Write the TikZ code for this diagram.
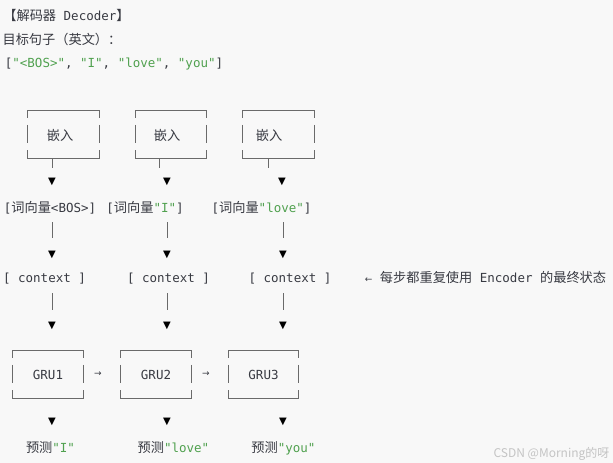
\documentclass[tikz,border=0pt]{standalone}
\usepackage{fontspec}
\setmainfont{DejaVu Sans Mono}[Ligatures=ResetAll]
\setmonofont{DejaVu Sans Mono}
\newfontfamily\cjk{Noto Sans CJK SC}
\newfontfamily\symf{DejaVu Sans}
\definecolor{bg}{HTML}{F8F8F8}
\definecolor{txt}{HTML}{383A42}
\definecolor{strc}{HTML}{50A14F}
\definecolor{framec}{HTML}{6A6A6A}
\definecolor{wm}{HTML}{C4C4C4}
\newcommand\zh[1]{{\cjk\fontsize{13.2}{15}\selectfont #1}}
\newcommand\gs[1]{\textcolor{strc}{#1}}
\newcommand\boxart[1]{%
  \draw[boxline] ([yshift=-7pt]#1.north west) -- (#1.north west) -- (#1.north east) -- ([yshift=-7pt]#1.north east);
  \draw[boxline] ([yshift=-14pt]#1.north west) -- ([yshift=-32pt]#1.north west);
  \draw[boxline] ([yshift=-14pt]#1.north east) -- ([yshift=-32pt]#1.north east);
  \draw[boxline] ([yshift=8pt]#1.south west) -- (#1.south west) -- (#1.south east) -- ([yshift=8pt]#1.south east);}
\tikzset{
  txtn/.style={inner sep=0pt, anchor=base, text=txt, font=\ttfamily\fontsize{12.5}{15}\selectfont},
  fbox/.style={inner sep=0pt, minimum width=70pt, minimum height=47pt, text=txt, font=\ttfamily\fontsize{12.5}{15}\selectfont},
  boxline/.style={draw=framec, line width=0.9pt},
  bar/.style={draw=framec, line width=0.9pt},
  tri/.style={inner sep=0pt, text=black, font=\symf\fontsize{10}{12}\selectfont},
  sarrow/.style={inner sep=0pt, text=txt, font=\symf\fontsize{9}{12}\selectfont},
}
\begin{document}
\begin{tikzpicture}[x=1pt,y=-1pt]
\fill[bg] (0,0) rectangle (613,463);
\useasboundingbox (0,0) rectangle (613,463);
% header
\node[txtn] (h1) at (66.5,20) {\zh{【解码器}~Decoder\zh{】}};
\node[txtn] (h2) at (62,44) {\zh{目标句子（英文）：}};
\node[txtn] (h3) at (114,67.5) {[\gs{"<BOS>"}, \gs{"I"}, \gs{"love"}, \gs{"you"}]};
% embedding boxes
\node[fbox, minimum width=71pt] (e1) at (63.5,134.5) {};
\node[fbox] (e2) at (171,134.5) {};
\node[fbox, minimum width=71pt] (e3) at (278.5,134.5) {};
\boxart{e1}\boxart{e2}\boxart{e3}
\node[txtn] (e1t) at (60,140) {\zh{嵌入}};
\node[txtn] (e2t) at (167,140) {\zh{嵌入}};
\node[txtn] (e3t) at (269,140) {\zh{嵌入}};
% stems
\coordinate (s1) at (52,158); \coordinate (s2) at (159,158); \coordinate (s3) at (268,158);
\draw[bar] (s1) -- ++(0,10);
\draw[bar] (s2) -- ++(0,10);
\draw[bar] (s3) -- ++(0,10);
\node[tri] (ta1) at (52,182) {▼};
\node[tri] (ta2) at (167,182) {▼};
\node[tri] (ta3) at (282,182) {▼};
% word vectors
\node[txtn] (v1) at (50,212) {[\zh{词向量}<BOS>]};
\node[txtn] (v2) at (145,212) {[\zh{词向量}\gs{"I"}]};
\node[txtn] (v3) at (261.5,212) {[\zh{词向量}\gs{"love"}]};
\coordinate (b1) at (52,222); \coordinate (b2) at (167,222); \coordinate (b3) at (283,222);
\draw[bar] (b1) -- ++(0,16);
\draw[bar] (b2) -- ++(0,16);
\draw[bar] (b3) -- ++(0,16);
\node[tri] (tb1) at (52,255) {▼};
\node[tri] (tb2) at (167,255) {▼};
\node[tri] (tb3) at (283,255) {▼};
% context
\node[txtn] (c1) at (44.5,282.5) {[ context ]};
\node[txtn] (c2) at (168.5,282.5) {[ context ]};
\node[txtn] (c3) at (290,282.5) {[ context ]};
\node[txtn] (note) at (485.5,282.5) {{\symf\fontsize{9}{10}\selectfont ←}~\zh{每步都重复使用}~Encoder~\zh{的最终状态}};
\coordinate (d1) at (52,293); \coordinate (d2) at (167,293); \coordinate (d3) at (283,293);
\draw[bar] (d1) -- ++(0,17);
\draw[bar] (d2) -- ++(0,17);
\draw[bar] (d3) -- ++(0,17);
\node[tri] (tc1) at (52,326) {▼};
\node[tri] (tc2) at (167,326) {▼};
\node[tri] (tc3) at (283,326) {▼};
% GRU boxes
\node[fbox] (g1) at (48,374.5) {GRU1};
\node[fbox] (g2) at (156,374.5) {GRU2};
\node[fbox, minimum width=69pt] (g3) at (263.5,374.5) {GRU3};
\boxart{g1}\boxart{g2}\boxart{g3}
\node[sarrow] (r1) at (98,374.5) {→};
\node[sarrow] (r2) at (206,374.5) {→};
\node[tri] (td1) at (52,422) {▼};
\node[tri] (td2) at (167,422) {▼};
\node[tri] (td3) at (283,422) {▼};
% predictions
\node[txtn] (p1) at (50.5,452) {\zh{预测}\gs{"I"}};
\node[txtn] (p2) at (173.5,452) {\zh{预测}\gs{"love"}};
\node[txtn] (p3) at (283.5,452) {\zh{预测}\gs{"you"}};
% watermark
\node[inner sep=0pt, anchor=base, text=wm, font=\cjk\fontsize{12}{14}\selectfont] (wmk) at (551.5,457) {CSDN @Morning的呀};
\end{tikzpicture}
\end{document}
